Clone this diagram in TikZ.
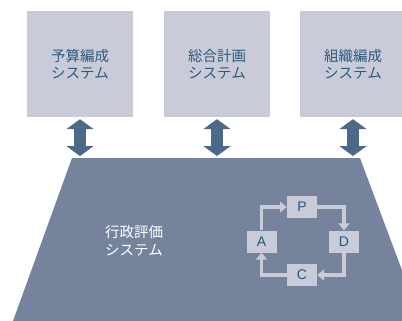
\documentclass[tikz,border=0pt]{standalone}
\usepackage{fontspec}
\setmainfont{Liberation Sans}
\newfontfamily\jp{Noto Sans CJK JP}
\usetikzlibrary{arrows.meta}
\definecolor{boxgray}{HTML}{C9CCD8}
\definecolor{boxtext}{HTML}{2B5B7D}
\definecolor{arrowblue}{HTML}{4C6A88}
\definecolor{trapblue}{HTML}{75849C}
\definecolor{pdcatext}{HTML}{1E5A80}
\begin{document}
\begin{tikzpicture}[x=1pt,y=-1pt,
  topbox/.style={fill=boxgray, minimum width=106pt, minimum height=106pt, inner sep=0pt,
    text=boxtext, align=center, font=\jp\fontsize{14.5pt}{17pt}\selectfont},
  bigarrow/.style={arrowblue, line width=12pt,
    {Triangle[width=27pt,length=10pt]}-{Triangle[width=27pt,length=10pt]}},
  pdcabox/.style={fill=boxgray, minimum width=30pt, minimum height=22pt, inner sep=0pt,
    text=pdcatext, font=\fontsize{14pt}{16pt}\selectfont},
  pdcaline/.style={boxgray, line width=3.5pt, -{Triangle[width=11pt,length=7pt]}}]
\useasboundingbox (0,0) rectangle (402,321);
\clip (0,0) rectangle (402,321);
% top systems
\node[topbox] (b1) at (80,64) {予算編成\\システム};
\node[topbox] (b2) at (217,64) {総合計画\\システム};
\node[topbox] (b3) at (353,64) {組織編成\\システム};
% trapezoid
\coordinate (TL) at (72,158);
\coordinate (TR) at (360,158);
\coordinate (BR) at (421,321);
\coordinate (BL) at (13,321);
\fill[trapblue] (TL) -- (TR) -- (BR) -- (BL) -- cycle;
\node[text=white, align=center, font=\jp\fontsize{14.5pt}{18pt}\selectfont] (main) at (134,241) {行政評価\\システム};
% double arrows
\draw[bigarrow, shorten <=2pt, shorten >=2pt] (b1.south) -- (b1.south |- TL);
\draw[bigarrow, shorten <=2pt, shorten >=2pt] (b2.south) -- (b2.south |- TL);
\draw[bigarrow, shorten <=2pt, shorten >=2pt] (b3.south) -- (b3.south |- TL);
% PDCA
\node[pdcabox] (P) at (302,207) {P};
\node[pdcabox] (D) at (344,241.5) {D};
\node[pdcabox] (C) at (302,275) {C};
\node[pdcabox] (A) at (261.5,241.5) {A};
\draw[pdcaline] (A.north) |- (P.west);
\draw[pdcaline] (P.east) -| (D.north);
\draw[pdcaline] (D.south) |- (C.east);
\draw[pdcaline] (C.west) -| (A.south);
\end{tikzpicture}
\end{document}
